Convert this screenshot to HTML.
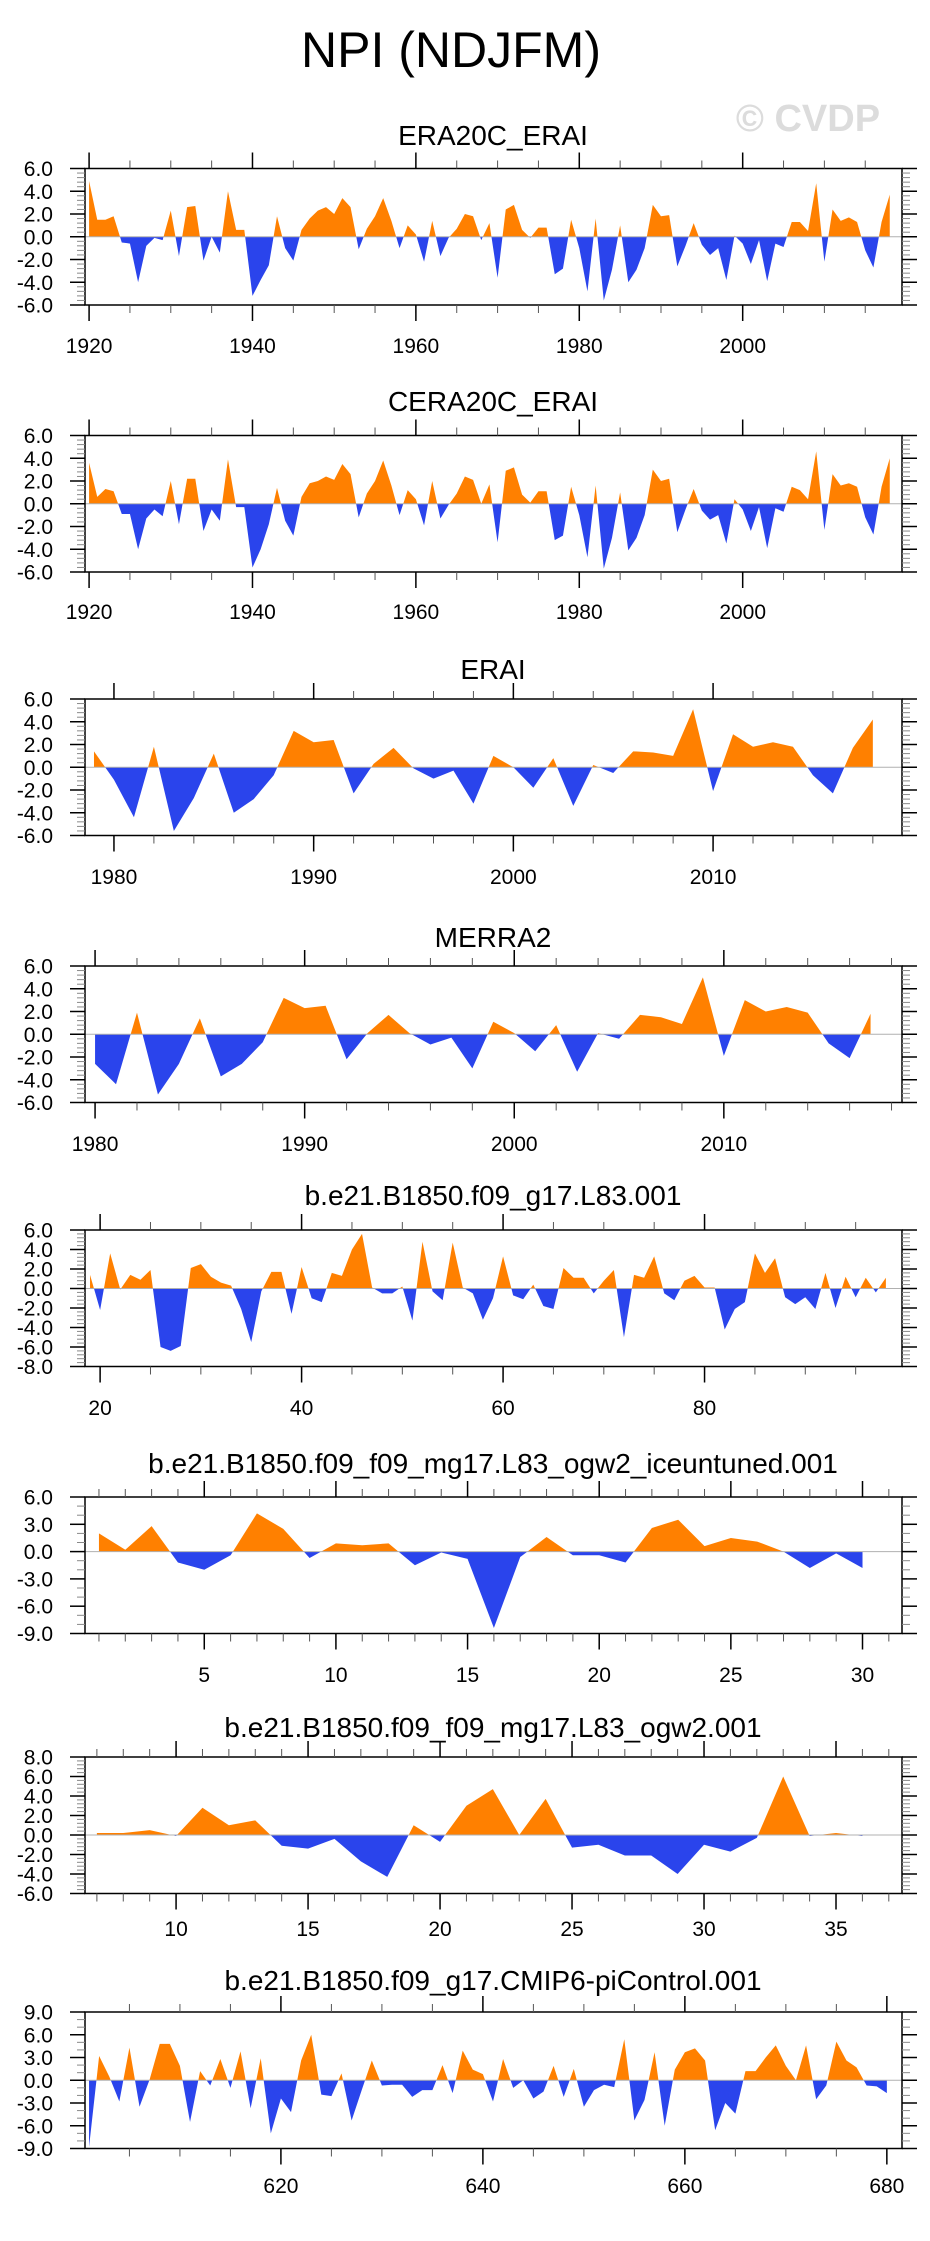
<!DOCTYPE html>
<html><head><meta charset="utf-8">
<style>
html,body{margin:0;padding:0;background:#fff;}
svg{display:block;font-family:"Liberation Sans",Arial,sans-serif;}
</style></head>
<body>
<svg id="fig" width="930" height="2241" viewBox="0 0 930 2241" xmlns="http://www.w3.org/2000/svg">
<text x="451" y="67" font-size="50" text-anchor="middle" fill="#000">NPI (NDJFM)</text>
<text x="808" y="131" font-size="38" font-weight="bold" text-anchor="middle" fill="#dcdcdc">© CVDP</text>
</svg>
<script>
// ---- data ----
const era20cStart = 1920;
const era20cValues = [4.9,1.5,1.5,1.8,-0.5,-0.6,-4.0,-0.8,-0.1,-0.3,2.3,-1.7,2.6,2.7,-2.1,0.0,-1.4,4.0,0.6,0.6,-5.2,-3.8,-2.5,1.8,-1.0,-2.1,0.6,1.6,2.3,2.6,2.0,3.4,2.6,-1.1,0.7,1.8,3.4,1.4,-1.0,1.0,0.2,-2.2,1.4,-1.7,-0.1,0.7,2.0,1.8,-0.3,1.2,-3.6,2.4,2.8,0.6,-0.1,0.8,0.8,-3.3,-2.8,1.5,-1.0,-4.8,1.6,-5.6,-2.9,1.0,-4.0,-2.9,-1.0,2.8,1.8,1.9,-2.6,-0.8,1.2,-0.7,-1.6,-1.0,-3.8,0.1,-0.6,-2.4,-0.3,-3.9,-0.6,-0.9,1.3,1.3,0.5,4.7,-2.2,2.4,1.4,1.7,1.3,-1.2,-2.7,1.3,3.7];
const cera20cStart = 1920;
const cera20cValues = [3.6,0.6,1.3,1.1,-0.9,-0.9,-4.0,-1.3,-0.5,-1.1,2.0,-1.8,2.2,2.2,-2.4,-0.5,-1.5,3.9,-0.3,-0.3,-5.6,-4.0,-1.8,1.4,-1.5,-2.8,0.6,1.8,2.0,2.4,2.1,3.5,2.6,-1.2,0.9,2.0,3.8,1.6,-1.0,1.2,0.4,-1.9,2.0,-1.3,-0.1,0.9,2.4,2.1,0.0,1.7,-3.4,2.9,3.2,0.8,0.1,1.1,1.1,-3.2,-2.8,1.5,-1.0,-4.7,1.6,-5.7,-3.0,1.0,-4.1,-3.0,-1.0,3.0,2.0,2.2,-2.5,-0.5,1.3,-0.6,-1.4,-1.0,-3.5,0.4,-0.5,-2.4,-0.3,-3.9,-0.4,-0.7,1.5,1.2,0.4,4.6,-2.3,2.6,1.6,1.8,1.5,-1.2,-2.7,1.5,4.0];
const eraiStart = 1979;
const eraiValues = [1.4,-1.1,-4.4,1.8,-5.6,-2.7,1.2,-4.0,-2.8,-0.7,3.2,2.2,2.4,-2.3,0.3,1.7,-0.1,-1.0,-0.3,-3.2,1.0,0.0,-1.8,0.8,-3.4,0.2,-0.5,1.4,1.3,1.0,5.1,-2.1,2.9,1.8,2.2,1.8,-0.7,-2.3,1.7,4.2];
const merraStart = 1980;
const merraValues = [-2.6,-4.4,1.9,-5.3,-2.6,1.4,-3.7,-2.6,-0.7,3.2,2.3,2.5,-2.2,0.1,1.7,0.1,-0.9,-0.3,-3.0,1.1,0.1,-1.5,0.8,-3.3,0.1,-0.4,1.7,1.5,0.9,5.0,-1.9,3.0,2.0,2.4,1.9,-0.8,-2.1,1.8];
const l83Start = 19;
const l83Values = [1.4,-2.2,3.6,-0.1,1.4,0.9,1.9,-6.0,-6.4,-5.9,2.1,2.5,1.2,0.6,0.3,-2.1,-5.5,-0.3,1.7,1.7,-2.6,2.2,-1.0,-1.4,1.6,1.3,4.0,5.6,0.1,-0.5,-0.5,0.2,-3.3,4.8,-0.3,-1.2,4.7,0.1,-0.5,-3.2,-1.0,3.3,-0.7,-1.1,0.4,-1.8,-2.1,2.1,1.1,1.1,-0.5,0.8,1.9,-5.0,1.4,1.1,3.3,-0.5,-1.2,0.8,1.3,0.1,0.1,-4.2,-2.1,-1.4,3.6,1.6,3.1,-0.9,-1.6,-0.9,-2.1,1.6,-2.0,1.2,-0.9,1.1,-0.4,1.1];
const iceStart = 1;
const iceValues = [2.0,0.2,2.8,-1.2,-2.0,-0.4,4.2,2.5,-0.7,0.9,0.7,0.9,-1.5,-0.1,-0.8,-8.4,-0.6,1.6,-0.4,-0.4,-1.2,2.6,3.5,0.6,1.5,1.1,0.0,-1.8,-0.2,-1.8];
const ogwStart = 7;
const ogwValues = [0.2,0.2,0.5,-0.1,2.8,1.0,1.5,-1.1,-1.4,-0.4,-2.7,-4.3,1.0,-0.7,3.0,4.7,0.0,3.7,-1.3,-1.0,-2.1,-2.1,-4.0,-1.0,-1.7,-0.3,6.0,-0.1,0.2,-0.1];
const piStart = 601;
const piValues = [-8.8,3.2,0.5,-2.8,4.3,-3.5,0.1,4.8,4.8,1.9,-5.5,1.2,-0.7,2.8,-1.0,3.8,-3.7,2.9,-7.0,-2.4,-4.2,2.6,6.0,-1.9,-2.1,0.9,-5.3,-1.3,2.6,-0.7,-0.6,-0.6,-2.2,-1.3,-1.3,2.0,-1.7,3.9,1.4,0.8,-2.8,2.8,-1.0,0.0,-2.4,-1.5,1.9,-2.2,1.5,-3.5,-1.3,-0.6,-0.9,5.4,-5.3,-2.6,3.7,-6.0,1.4,3.7,4.2,2.6,-6.6,-3.0,-4.4,1.2,1.2,3.0,4.6,1.9,0.0,4.6,-2.5,-0.7,5.1,2.6,1.7,-0.7,-0.8,-1.7];
// tick label arrays
const ticksA = [1920,1940,1960,1980,2000];
const ticksB = [1980,1990,2000,2010];
const ticksC = [20,40,60,80];
const ticksD = [5,10,15,20,25,30];
const ticksE = [10,15,20,25,30,35];
const ticksF = [620,640,660,680];
const yTicks6 = [-6,-4,-2,0,2,4,6];
const yTicks8 = [-8,-6,-4,-2,0,2,4,6];
const yTicks9a = [-9,-6,-3,0,3,6];
const yTicks8b = [-6,-4,-2,0,2,4,6,8];
const yTicks9 = [-9,-6,-3,0,3,6,9];

const NS = "http://www.w3.org/2000/svg";
const svg = document.getElementById('fig');
function mk(tag, attrs, parent){
  const e = document.createElementNS(NS, tag);
  for (const k in attrs) e.setAttribute(k, attrs[k]);
  (parent||svg).appendChild(e);
  return e;
}
const L = 85, R = 902, H = 136.5;

function panel(name, title, top, titleY, labY, xmin, xmax, start, vals, xt, xMinorStep, xMinorStart, yt, yMinorSub){
  const g = mk('g', {});
  
  
  const ymin = yt[0], ymax = yt[yt.length-1];
  const bot = top + H;
  const X = v => L + (v - xmin) / (xmax - xmin) * (R - L);
  const Y = v => bot - (v - ymin) / (ymax - ymin) * H;
  const t = mk('text', {x: 493, y: titleY, 'font-size': 28, 'text-anchor': 'middle', fill: '#000'}, g);
  
  
  t.textContent = title;
  // build points with zero crossings
  const pts = [];
  for (let i = 0; i < vals.length; i++) {
    const x = start + i, v = vals[i];
    if (i > 0) {
      const pv = vals[i-1];
      if ((pv > 0 && v < 0) || (pv < 0 && v > 0)) {
        const f = pv / (pv - v);
        pts.push([x - 1 + f, 0]);
      }
    }
    pts.push([x, v]);
  }
  const x0 = pts[0][0], x1 = pts[pts.length-1][0];
  let dp = `M${X(x0)},${Y(0)}`, dn = `M${X(x0)},${Y(0)}`;
  pts.forEach(p => { dp += `L${X(p[0]).toFixed(2)},${Y(Math.max(p[1],0)).toFixed(2)}`; dn += `L${X(p[0]).toFixed(2)},${Y(Math.min(p[1],0)).toFixed(2)}`; });
  dp += `L${X(x1)},${Y(0)}Z`; dn += `L${X(x1)},${Y(0)}Z`;
  const pp = mk('path', {d: dp, fill: '#ff8000'}, g);
  
  
  const pn = mk('path', {d: dn, fill: '#2a44ec'}, g);
  
  
  const zl = mk('line', {x1: L, x2: R, y1: Y(0), y2: Y(0), stroke: '#b0b0b0', 'stroke-width': 1}, g);
  
  
  const box = mk('rect', {x: L, y: top, width: R - L, height: H, fill: 'none', stroke: '#000', 'stroke-width': 1.5}, g);
  
  
  // x minor ticks
  for (let v = xMinorStart; v <= xmax; v += xMinorStep) {
    if (v < xmin) continue;
    const x = X(v);
    mk('line', {x1: x, x2: x, y1: top, y2: top - 8, stroke: '#555', 'stroke-width': 1}, g);
    mk('line', {x1: x, x2: x, y1: bot, y2: bot + 8, stroke: '#555', 'stroke-width': 1}, g);
  }
  xt.forEach(v => {
    const x = X(v);
    mk('line', {x1: x, x2: x, y1: top, y2: top - 16, stroke: '#000', 'stroke-width': 1.5}, g);
    mk('line', {x1: x, x2: x, y1: bot, y2: bot + 16, stroke: '#000', 'stroke-width': 1.5}, g);
    const tl = mk('text', {x: x, y: labY, 'font-size': 21, 'text-anchor': 'middle', fill: '#000'}, g);
    
    
    tl.textContent = String(v);
  });
  // y ticks
  const ystep = yt[1] - yt[0];
  for (let i = 0; i < yt.length; i++) {
    const y = Y(yt[i]);
    mk('line', {x1: L, x2: L - 15, y1: y, y2: y, stroke: '#000', 'stroke-width': 1.5}, g);
    mk('line', {x1: R, x2: R + 15, y1: y, y2: y, stroke: '#000', 'stroke-width': 1.5}, g);
    const yl = mk('text', {x: 53, y: y + 7.5, 'font-size': 21, 'text-anchor': 'end', fill: '#000'}, g);
    
    
    yl.textContent = yt[i].toFixed(1);
    if (i < yt.length - 1) {
      for (let k = 1; k < yMinorSub; k++) {
        const ym = Y(yt[i] + ystep * k / yMinorSub);
        mk('line', {x1: L, x2: L - 8, y1: ym, y2: ym, stroke: '#888', 'stroke-width': 1}, g);
        mk('line', {x1: R, x2: R + 8, y1: ym, y2: ym, stroke: '#888', 'stroke-width': 1}, g);
      }
    }
  }
}

panel('era20c-erai', 'ERA20C_ERAI', 168.5, 145, 353, 1919.5, 2019.5, era20cStart, era20cValues, ticksA, 5, 1920, yTicks6, 5);
panel('cera20c-erai', 'CERA20C_ERAI', 435.5, 411, 619, 1919.5, 2019.5, cera20cStart, cera20cValues, ticksA, 5, 1920, yTicks6, 5);
panel('erai', 'ERAI', 699, 679, 884, 1978.55, 2019.46, eraiStart, eraiValues, ticksB, 2, 1980, yTicks6, 5);
panel('merra2', 'MERRA2', 966, 947, 1151, 1979.52, 2018.5, merraStart, merraValues, ticksB, 2, 1980, yTicks6, 5);
panel('l83-001', 'b.e21.B1850.f09_g17.L83.001', 1230, 1205, 1415, 18.5, 99.6, l83Start, l83Values, ticksC, 5, 20, yTicks8, 5);
panel('ogw2-iceuntuned', 'b.e21.B1850.f09_f09_mg17.L83_ogw2_iceuntuned.001', 1497, 1473, 1682, 0.47, 31.5, iceStart, iceValues, ticksD, 1, 1, yTicks9a, 3);
panel('ogw2-001', 'b.e21.B1850.f09_f09_mg17.L83_ogw2.001', 1757, 1737, 1936, 6.55, 37.5, ogwStart, ogwValues, ticksE, 1, 7, yTicks8b, 5);
panel('cmip6-picontrol', 'b.e21.B1850.f09_g17.CMIP6-piControl.001', 2012, 1990, 2193, 600.6, 681.5, piStart, piValues, ticksF, 5, 605, yTicks9, 3);
</script>
</body></html>
